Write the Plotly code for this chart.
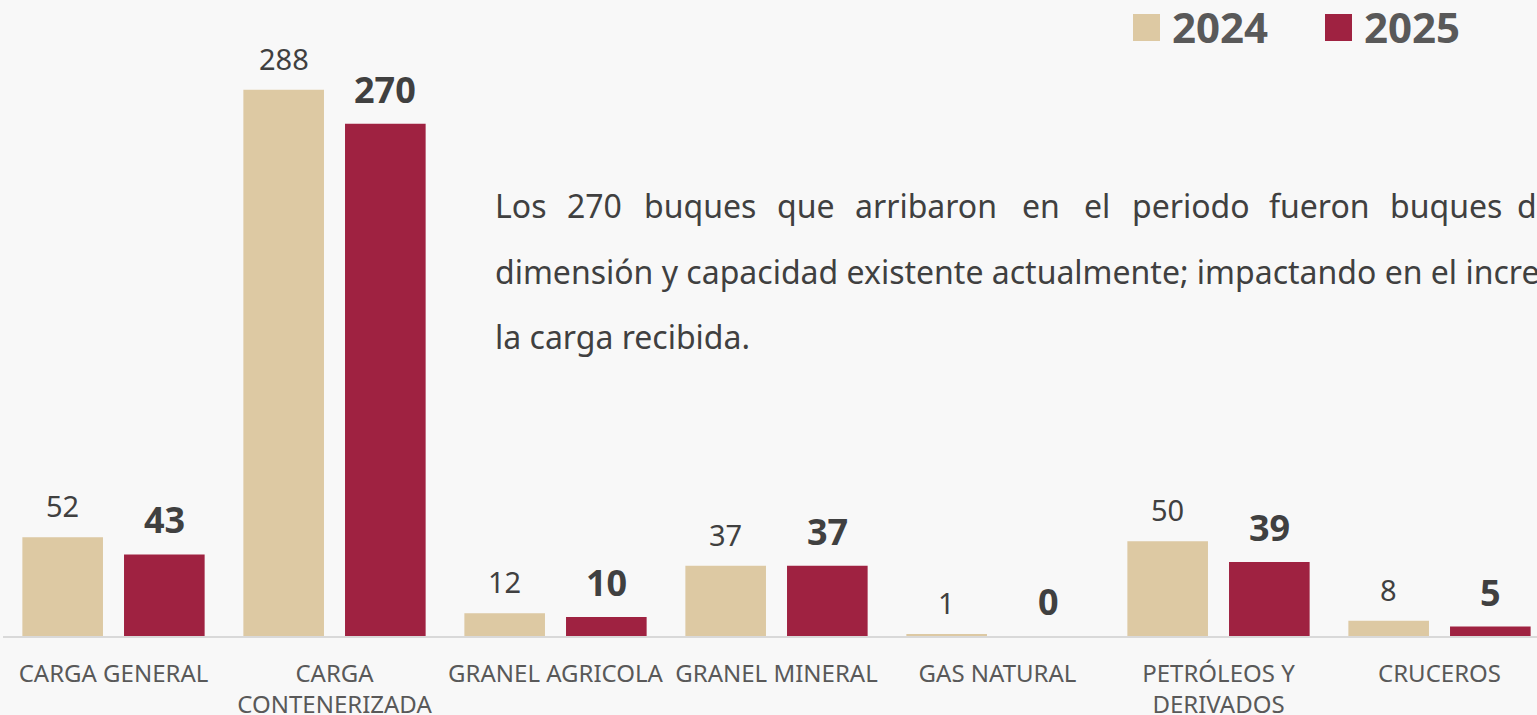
import plotly.graph_objects as go

categories = ["CARGA GENERAL", "CARGA<br>CONTENERIZADA", "GRANEL AGRICOLA", "GRANEL MINERAL",
              "GAS NATURAL", "PETRÓLEOS Y<br>DERIVADOS", "CRUCEROS"]
values_2024 = [52, 288, 12, 37, 1, 50, 8]
values_2025 = [43, 270, 10, 37, 0, 39, 5]
series_names = ["2024", "2025"]

line1_words = ["Los", "270", "buques", "que", "arribaron", "en", "el", "periodo", "fueron", "buques", "de", "mayor"]
line2_text = "dimensión y capacidad existente actualmente; impactando en el incremento de"
line3_text = "la carga recibida."

TAN = "#DDC9A3"
GUINDA = "#9F2241"
BG = "#F8F8F8"
FONT = "Noto Sans"

W, H = 1537, 715
ML, MR, MT, MB = 3, 0, 10, 79
PW, PH = W - ML - MR, H - MT - MB


def px(x):
    return (x - ML) / PW


def py(y):
    return (H - MB - y) / PH


fig = go.Figure()
fig.add_trace(go.Bar(x=categories, y=values_2024, name=series_names[0],
                     marker=dict(color=TAN, line=dict(width=0)), showlegend=False))
fig.add_trace(go.Bar(x=categories, y=values_2025, name=series_names[1],
                     marker=dict(color=GUINDA, line=dict(width=0)), showlegend=False))

ann = []
slot = 101.5
for c, v in zip(categories, values_2024):
    ann.append(dict(x=c, y=v, xref="x", yref="y", xshift=-slot / 2, yshift=10,
                    yanchor="bottom", xanchor="center", showarrow=False, text=str(v),
                    font=dict(family=FONT, size=29, color="#404040")))
for c, v in zip(categories, values_2025):
    ann.append(dict(x=c, y=v, xref="x", yref="y", xshift=slot / 2, yshift=8,
                    yanchor="bottom", xanchor="center", showarrow=False, text="<b>%d</b>" % v,
                    font=dict(family=FONT, size=36, color="#404040")))

# paragraph
word_x = [493, 565, 642, 775, 853, 1020, 1082, 1130, 1267, 1388, 1515, 1585]
for wx, w in zip(word_x, line1_words):
    ann.append(dict(x=px(wx), y=py(206), xref="paper", yref="paper", xanchor="left", yanchor="middle",
                    showarrow=False, text=w, font=dict(family=FONT, size=32, color="#404040")))
ann.append(dict(x=px(493), y=py(271), xref="paper", yref="paper", xanchor="left", yanchor="middle",
                showarrow=False, text=line2_text, font=dict(family=FONT, size=32, color="#404040")))
ann.append(dict(x=px(493), y=py(336), xref="paper", yref="paper", xanchor="left", yanchor="middle",
                showarrow=False, text=line3_text, font=dict(family=FONT, size=32, color="#404040")))

# legend
shapes = []
for (x0, color, name, tx) in [(1133, TAN, series_names[0], 1170), (1325, GUINDA, series_names[1], 1362)]:
    shapes.append(dict(type="rect", xref="paper", yref="paper", x0=px(x0), x1=px(x0 + 27),
                       y0=py(41), y1=py(14), fillcolor=color, line=dict(width=0)))
    ann.append(dict(x=px(tx), y=py(26), xref="paper", yref="paper", xanchor="left", yanchor="middle",
                    showarrow=False, text="<b>%s</b>" % name,
                    font=dict(family=FONT, size=42, color="#595959")))

fig.update_layout(
    width=W, height=H,
    margin=dict(l=ML, r=MR, t=MT, b=MB, pad=0, autoexpand=False),
    paper_bgcolor=BG, plot_bgcolor=BG,
    barmode="group", bargap=0.08, bargroupgap=0.207,
    font=dict(family=FONT, color="#595959"),
    annotations=ann, shapes=shapes,
    showlegend=False,
)
fig.update_xaxes(range=[-0.5, -0.5 + PW / 221.0], showline=True, linecolor="#D9D9D9", linewidth=2,
                 showgrid=False, zeroline=False, ticks="outside", ticklen=15, tickcolor="rgba(0,0,0,0)",
                 tickfont=dict(family=FONT, size=24, color="#595959"), fixedrange=True, automargin=False)
fig.update_yaxes(range=[0, 330], visible=False, showgrid=False, zeroline=False, fixedrange=True,
                 automargin=False)

fig.write_html("out.html", config={"displayModeBar": False},
               post_script="document.body.style.margin='0';document.body.style.overflow='hidden';"
                           "document.body.style.background='%s';" % BG)
